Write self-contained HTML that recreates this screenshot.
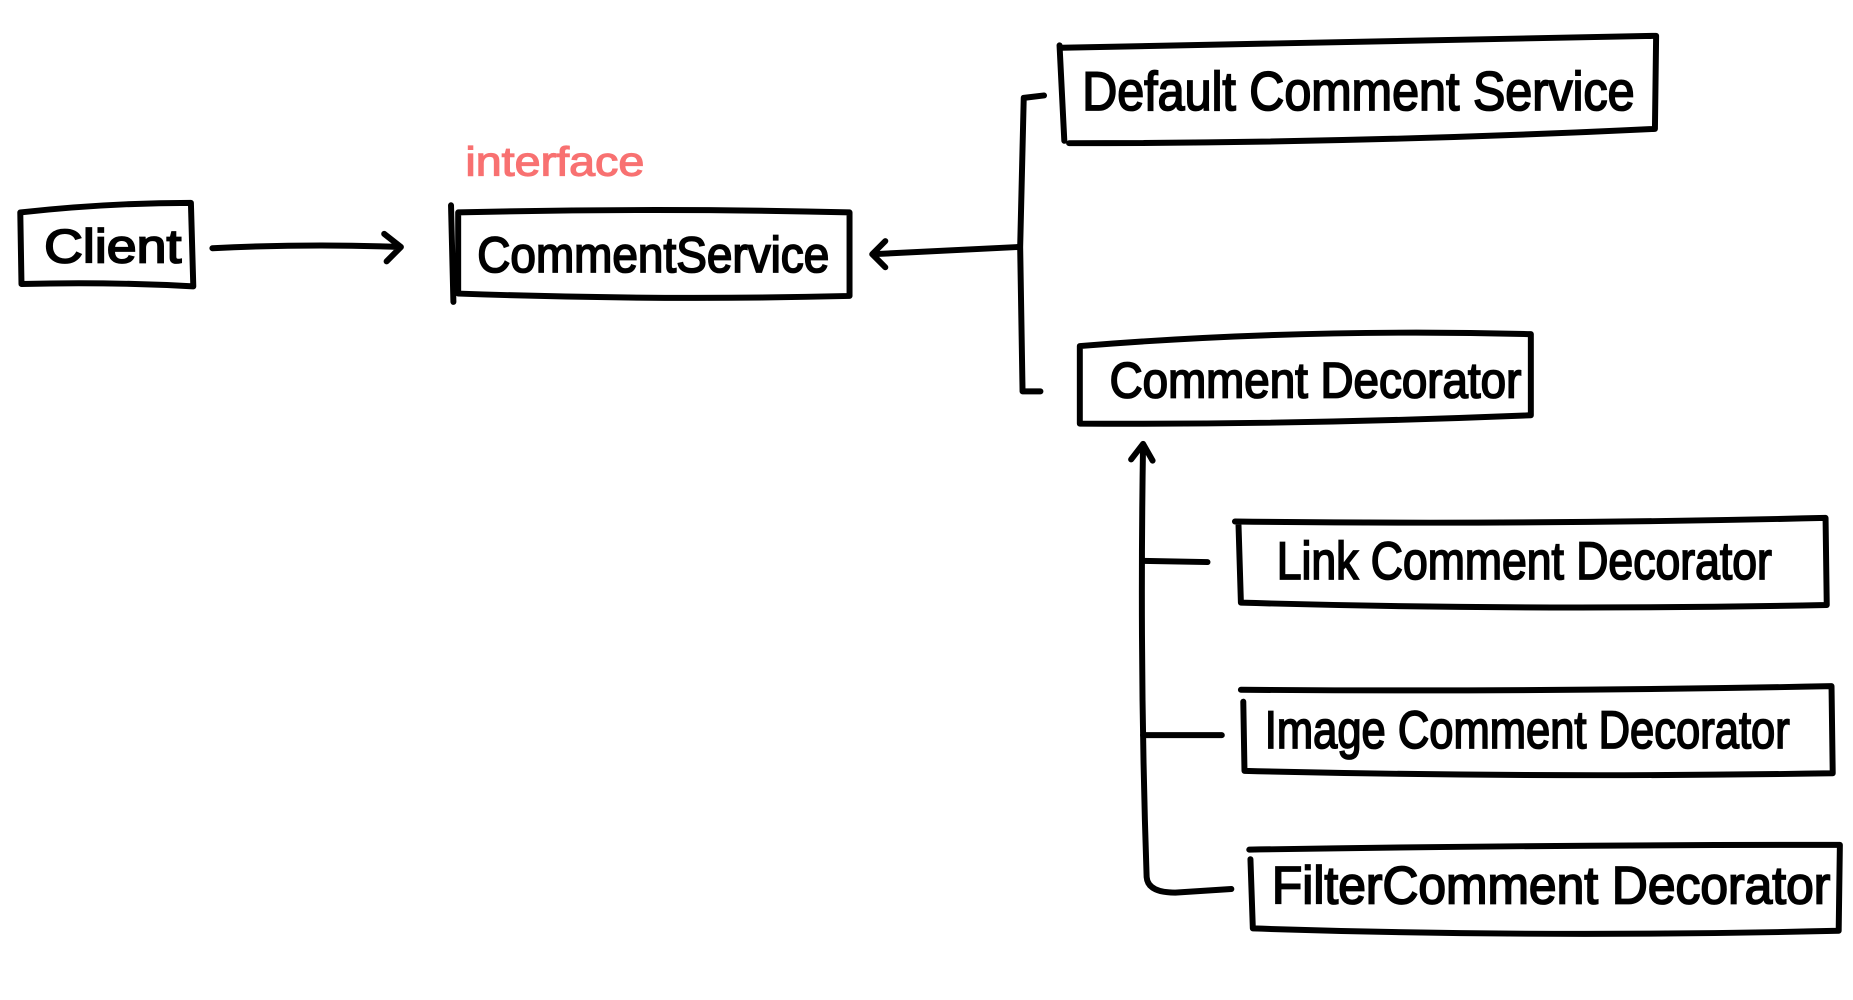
<!DOCTYPE html>
<html><head><meta charset="utf-8"><style>
html,body{margin:0;padding:0;background:#fff;width:1853px;height:1000px;overflow:hidden}
svg{display:block}
text{font-family:"Liberation Sans",sans-serif;fill:#000}
</style></head><body>
<svg width="1853" height="1000" viewBox="0 0 1553 838" preserveAspectRatio="none">
<g fill="none" stroke="#000" stroke-width="5" stroke-linecap="round" stroke-linejoin="round">
<!-- Client -->
<path d="M17 178 Q90 170 160 170 L162 240 Q90 236 18 238 Z"/>
<path d="M178 208 Q260 204 335 207 M322 196 L336 207 L324 219"/>
<!-- CommentService -->
<path d="M378 172 L380 253 M384 178 Q550 174 712 178 L712 248 Q550 252 384 246 Z"/>
<path d="M853 207 Q790 210 732 213 M742 202 L731 213 L742 224"/>
<!-- bracket -->
<path d="M875 80 L858 82 L855 207 L857 328 L872 328"/>
<!-- Default -->
<path d="M888 38 L892 118 M890 40 Q1140 34 1388 30 L1387 108 Q1140 120 896 120"/>
<!-- CommentDecorator -->
<path d="M905 290 Q1090 275 1283 280 L1283 348 Q1090 356 905 355 Z"/>
<!-- up arrow & branches -->
<path d="M958 372 Q955 560 961 735 Q962 748 985 748 L1032 745 M948 385 L958 372 L966 386"/>
<path d="M958 470 L1012 471 M958 616 L1024 616"/>
<!-- Link -->
<path d="M1035 437 Q1280 440 1530 434 L1531 507 Q1280 512 1040 505 L1038 440"/>
<!-- Image -->
<path d="M1040 578 Q1290 580 1535 575 L1536 648 Q1290 652 1043 646 L1042 588"/>
<!-- Filter -->
<path d="M1047 712 Q1290 708 1542 708 L1541 780 Q1290 786 1050 778 L1048 720"/>
</g>
<text x="37" y="220" font-size="40" textLength="115" lengthAdjust="spacingAndGlyphs" stroke="#000" stroke-width="1.5">Client</text>
<text x="390" y="147" font-size="34" textLength="150" lengthAdjust="spacingAndGlyphs" style="fill:#f87171" stroke="#f87171" stroke-width="1">interface</text>
<text x="400" y="228" font-size="42" textLength="295" lengthAdjust="spacingAndGlyphs" stroke="#000" stroke-width="1.5">CommentService</text>
<text x="907" y="92" font-size="46" textLength="463" lengthAdjust="spacingAndGlyphs" stroke="#000" stroke-width="1.5">Default Comment Service</text>
<text x="930" y="333" font-size="42" textLength="345" lengthAdjust="spacingAndGlyphs" stroke="#000" stroke-width="1.5">Comment Decorator</text>
<text x="1070" y="485" font-size="44" textLength="415" lengthAdjust="spacingAndGlyphs" stroke="#000" stroke-width="1.5">Link Comment Decorator</text>
<text x="1060" y="627" font-size="44" textLength="440" lengthAdjust="spacingAndGlyphs" stroke="#000" stroke-width="1.5">Image Comment Decorator</text>
<text x="1066" y="757" font-size="44" textLength="468" lengthAdjust="spacingAndGlyphs" stroke="#000" stroke-width="1.5">FilterComment Decorator</text>
</svg>
</body></html>
